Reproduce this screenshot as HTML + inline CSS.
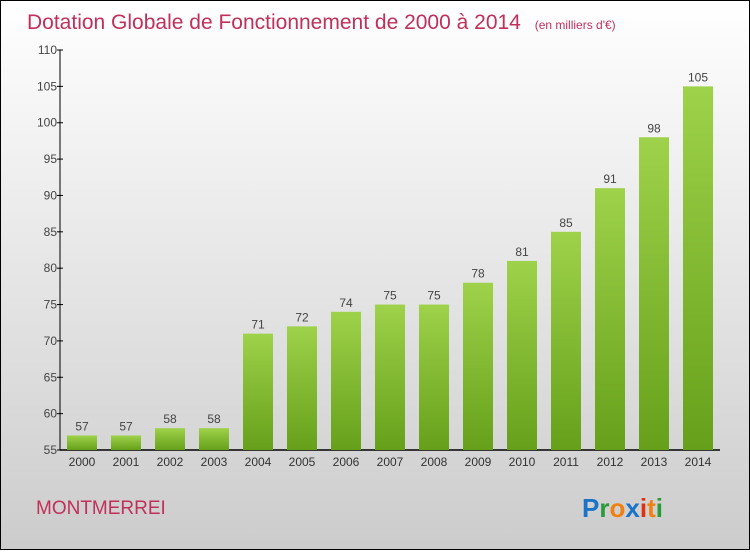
<!DOCTYPE html>
<html><head><meta charset="utf-8"><style>
body{margin:0;width:750px;height:550px;overflow:hidden;font-family:"Liberation Sans",sans-serif}
</style></head><body>
<svg width="750" height="550" xmlns="http://www.w3.org/2000/svg">
<defs>
<linearGradient id="bg" x1="0" y1="0" x2="0" y2="1"><stop offset="0" stop-color="#ffffff"/><stop offset="1" stop-color="#cccccc"/></linearGradient>
<linearGradient id="bar" x1="0" y1="0" x2="0" y2="1"><stop offset="0" stop-color="#9ed24a"/><stop offset="1" stop-color="#66a01a"/></linearGradient>
</defs>
<rect x="0.5" y="0.5" width="749" height="549" fill="url(#bg)" stroke="#000"/>
<text x="27" y="29" font-size="21" fill="#c0305a">Dotation Globale de Fonctionnement de 2000 à 2014 <tspan font-size="12" dx="8">(en milliers d'€)</tspan></text>
<g id="yaxis"></g>
<g id="bars"></g>
<text x="36" y="514" font-size="19" fill="#c0305a">MONTMERREI</text>
<text x="582" y="517" font-size="26" font-weight="bold"><tspan fill="#1a74c8">P</tspan><tspan fill="#2a9a3a">r</tspan><tspan fill="#f08010">o</tspan><tspan fill="#1a74c8">x</tspan><tspan fill="#e03010">i</tspan><tspan fill="#f08010">t</tspan><tspan fill="#2a9a3a">i</tspan></text>
</svg>
<script>
const years=["2000","2001","2002","2003","2004","2005","2006","2007","2008","2009","2010","2011","2012","2013","2014"];
const values=[57,57,58,58,71,72,74,75,75,78,81,85,91,98,105];
const yTicks=[55,60,65,70,75,80,85,90,95,100,105,110];
const NS="http://www.w3.org/2000/svg";
const y=v=>450-(v-55)*400/55;
const x=i=>82+44*i;
function mk(t,a,p){const e=document.createElementNS(NS,t);for(const k in a)e.setAttribute(k,a[k]);p.appendChild(e);return e;}
const ya=document.getElementById('yaxis'),bg=document.getElementById('bars');
let l=mk('line',{x1:60,y1:50,x2:60,y2:450,stroke:'#000','stroke-width':1},ya);


l=mk('line',{x1:60,y1:450,x2:720,y2:450,stroke:'#000','stroke-width':1.5},ya);


yTicks.forEach(v=>{
 const tk=mk('line',{x1:57,y1:y(v),x2:63,y2:y(v),stroke:'#000'},ya);
 
 
 const t=mk('text',{x:57,y:y(v)+4,'font-size':12,fill:'#444','text-anchor':'end'},ya);
 t.textContent=v;
 
 
});
years.forEach((yr,i)=>{
 const r=mk('rect',{x:x(i)-15,y:y(values[i]),width:30,height:450-y(values[i]),fill:'url(#bar)'},bg);
 
 
 const t=mk('text',{x:x(i),y:y(values[i])-5,'font-size':12,fill:'#444','text-anchor':'middle'},bg);
 t.textContent=values[i];
 
 
 const xl=mk('text',{x:x(i),y:466,'font-size':12,fill:'#333','text-anchor':'middle'},bg);
 xl.textContent=yr;
 
 
});
</script>
</body></html>
